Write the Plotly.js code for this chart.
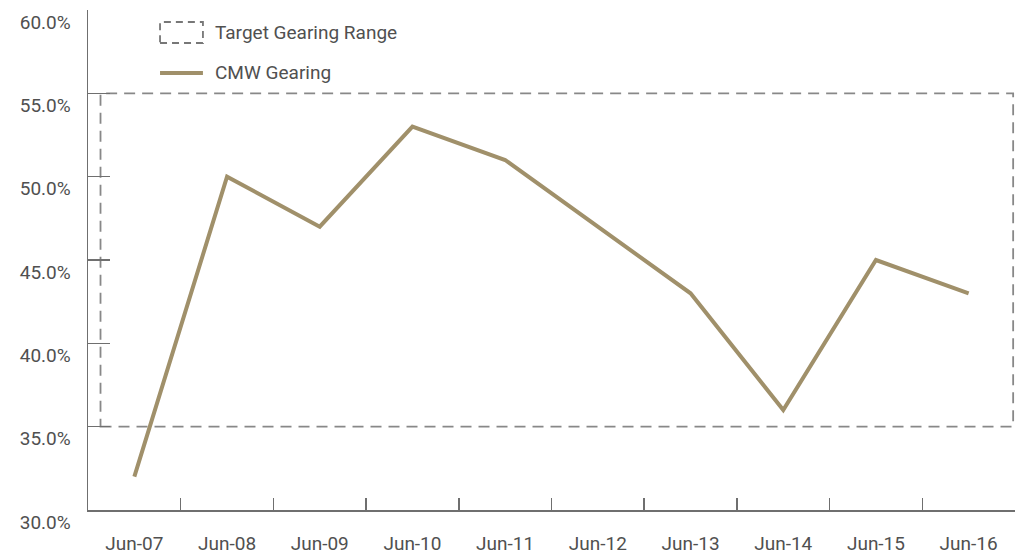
<!DOCTYPE html>
<html>
<head>
<meta charset="utf-8">
<script src="https://cdn.plot.ly/plotly-3.0.1.min.js"></script>
<style>html,body{margin:0;padding:0;background:#fff;}#chart{width:1024px;height:555px;}</style>
</head>
<body>
<div id="chart"></div>
<script>
const periods = ["Jun-07","Jun-08","Jun-09","Jun-10","Jun-11","Jun-12","Jun-13","Jun-14","Jun-15","Jun-16"];
const gearing = [32, 50, 47, 53, 51, 47, 43, 36, 45, 43];
const targetRange = [35, 55];
const yTicks = [30, 35, 40, 45, 50, 55, 60];
const legendLabels = ["Target Gearing Range", "CMW Gearing"];

const gold = "#a0906a";
const grey = "#6f6f6f";
const textGrey = "#505050";
const font = {family: "Roboto, 'DejaVu Sans', sans-serif", size: 19, color: textGrey};

const trace = {
  x: periods, y: gearing, type: "scatter", mode: "lines",
  line: {color: gold, width: 4}, hoverinfo: "x+y", showlegend: false
};

const layout = {
  width: 1024, height: 555,
  margin: {l: 88, r: 9, t: 10, b: 45},
  paper_bgcolor: "#fff", plot_bgcolor: "#fff",
  font: font,
  showlegend: false,
  xaxis: {
    type: "category", categoryorder: "array", categoryarray: periods,
    range: [-0.5, 9.5], tickson: "boundaries",
    ticks: "inside", ticklen: 12, tickwidth: 1.5, tickcolor: grey,
    showline: true, linecolor: grey, linewidth: 1.5,
    showgrid: false, zeroline: false, ticklabelstandoff: 16,
    tickfont: font, fixedrange: true
  },
  yaxis: {
    range: [30, 60], tickvals: yTicks,
    ticktext: yTicks.map(v => v.toFixed(1) + "%"),
    ticks: "inside", ticklen: 22, tickwidth: 1.5, tickcolor: grey,
    showline: true, linecolor: grey, linewidth: 1.5,
    showgrid: false, zeroline: false,
    ticklabelstandoff: 12, ticklabelshift: 12,
    tickfont: font, fixedrange: true
  },
  shapes: [
    {type: "rect", xref: "x", yref: "y", x0: -0.365, x1: 9.48,
     y0: targetRange[0], y1: targetRange[1],
     line: {color: "#888", width: 1.8, dash: "11px,7px"}, layer: "below"},
    {type: "rect", xref: "paper", yref: "paper", x0: 0.0777, x1: 0.124, y0: 0.934, y1: 0.976,
     line: {color: "#777", width: 1.8, dash: "7px,5px"}},
    {type: "line", xref: "paper", yref: "paper", x0: 0.0777, x1: 0.124, y0: 0.874, y1: 0.874,
     line: {color: gold, width: 4}}
  ],
  annotations: [
    {xref: "paper", yref: "paper", x: 0.135, y: 0.955, xanchor: "left", yanchor: "middle",
     text: legendLabels[0], showarrow: false, font: font},
    {xref: "paper", yref: "paper", x: 0.135, y: 0.876, xanchor: "left", yanchor: "middle",
     text: legendLabels[1], showarrow: false, font: font}
  ]
};

Plotly.newPlot("chart", [trace], layout, {displayModeBar: false, staticPlot: true});
</script>
</body>
</html>
